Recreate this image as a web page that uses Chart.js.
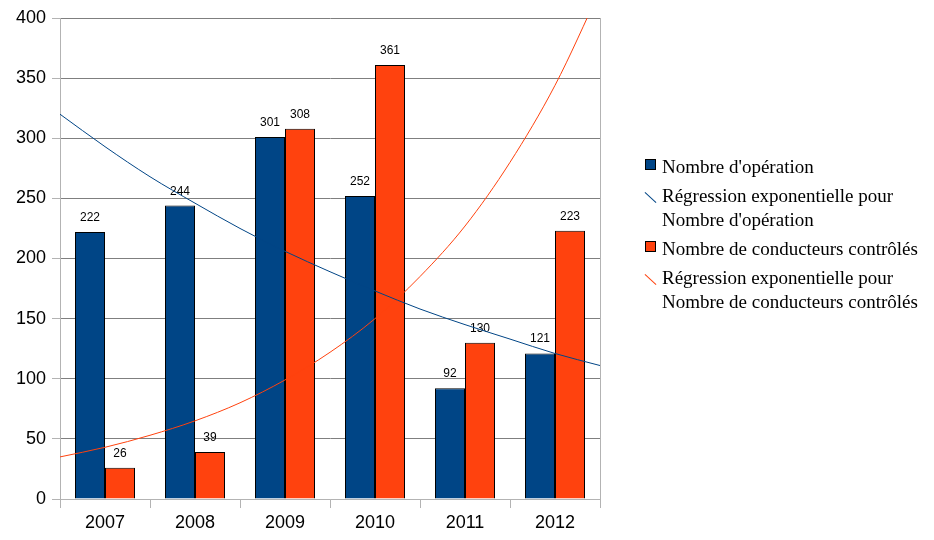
<!DOCTYPE html>
<html>
<head>
<meta charset="utf-8">
<script src="https://cdn.jsdelivr.net/npm/chart.js@4.4.0/dist/chart.umd.min.js"></script>
<style>
  body { margin: 0; background: #fff; }
  #wrap { position: relative; width: 934px; height: 540px; }
  #wrap canvas { position: absolute; left: 0; top: 0; }
  #legend { position: absolute; left: 644px; top: 155px; font-family: 'Liberation Serif', 'DejaVu Serif', serif; font-size: 19px; color: #000; }
  .item { position: relative; padding-left: 18px; line-height: 24px; margin-bottom: 5px; white-space: nowrap; }
  .box { position: absolute; left: 1px; top: 4px; width: 9px; height: 9px; border: 1px solid #000; }
  .diag { position: absolute; left: -1px; top: 13px; width: 15px; height: 1px; transform: rotate(42deg); }
</style>
</head>
<body>
<div id="wrap">
  <canvas id="myChart" width="934" height="540"></canvas>
  <canvas id="trendChart" width="934" height="540"></canvas>
  <div id="legend">
    <div class="item"><span class="box" style="background:#004586"></span>Nombre d'opération</div>
    <div class="item"><span class="diag" style="background:#004586"></span>Régression exponentielle pour<br>Nombre d'opération</div>
    <div class="item"><span class="box" style="background:#ff420e"></span>Nombre de conducteurs contrôlés</div>
    <div class="item"><span class="diag" style="background:#ff420e"></span>Régression exponentielle pour<br>Nombre de conducteurs contrôlés</div>
  </div>
</div>
<script>
const ctx = document.getElementById('myChart');
const ctxTrend = document.getElementById('trendChart');

// données
const years = ['2007', '2008', '2009', '2010', '2011', '2012'];
const operations = [222, 244, 301, 252, 92, 121];
const conducteurs = [26, 39, 308, 361, 130, 223];

// courbes de tendance (position en catégories, -0.5 = bord gauche)
const trendX = [-0.5, 0, 0.5, 1, 1.5, 2, 2.5, 3, 3.5, 4, 4.5, 5, 5.5];
const trendOperations = [320, 293, 268, 246, 225, 206, 189, 173, 158, 145, 133, 121, 111];
const trendConducteurs = [35, 43, 53, 65, 80, 99, 122, 150, 185, 227, 280, 344, 423];

const blue = '#004586';
const orange = '#ff420e';
const lightGray = '#b3b3b3';

// même zone de tracé pour les deux graphiques
const plotLeft = 60, plotRight = 334, plotTop = 18, plotBottom = 41;

function toPoints(xs, ys) {
    return xs.map((x, i) => ({x: x, y: ys[i]}));
}

// valeurs au-dessus des barres + bord droit
const extras = {
    id: 'extras',
    afterDatasetsDraw(chart) {
        const c = chart.ctx;
        const area = chart.chartArea;
        c.save();
        c.strokeStyle = lightGray;
        c.lineWidth = 1;
        c.beginPath();
        c.moveTo(area.right + 0.5, area.top);
        c.lineTo(area.right + 0.5, area.bottom);
        c.stroke();

        c.fillStyle = '#000';
        c.font = '12px "Liberation Sans", Arial, sans-serif';
        c.textAlign = 'center';
        c.textBaseline = 'alphabetic';
        chart.data.datasets.forEach((ds, i) => {
            chart.getDatasetMeta(i).data.forEach((bar, j) => {
                c.fillText(String(ds.data[j]), bar.x, bar.y - 11);
            });
        });
        c.restore();
    }
};

window.myChart = new Chart(ctx, {
    type: 'bar',
    data: {
        labels: years,
        datasets: [
            {
                label: "Nombre d'opération",
                data: operations,
                backgroundColor: blue,
                borderColor: '#000',
                borderWidth: 1
            },
            {
                label: 'Nombre de conducteurs contrôlés',
                data: conducteurs,
                backgroundColor: orange,
                borderColor: '#000',
                borderWidth: 1
            }
        ]
    },
    options: {
        responsive: false,
        animation: false,
        categoryPercentage: 2 / 3,
        barPercentage: 1,
        layout: {padding: {top: plotTop, right: plotRight, left: 0, bottom: 0}},
        plugins: {
            legend: {display: false},
            tooltip: {enabled: false}
        },
        scales: {
            x: {
                offset: true,
                grid: {offset: true, drawOnChartArea: false, color: lightGray, tickLength: 9},
                border: {color: lightGray},
                ticks: {color: '#000', padding: 4, font: {family: '"Liberation Sans", Arial, sans-serif', size: 18}},
                afterFit: (scale) => { scale.height = plotBottom; }
            },
            y: {
                min: 0,
                max: 400,
                ticks: {stepSize: 50, color: '#000', padding: 6, font: {family: '"Liberation Sans", Arial, sans-serif', size: 18}},
                grid: {
                    color: (c) => (c.tick && c.tick.value === 0 ? lightGray : '#7f7f7f'),
                    tickColor: lightGray,
                    tickLength: 8
                },
                border: {color: lightGray},
                afterFit: (scale) => { scale.width = plotLeft; }
            }
        }
    },
    plugins: [extras]
});

// régressions exponentielles, sur un canvas transparent par-dessus
window.trendChart = new Chart(ctxTrend, {
    type: 'line',
    data: {
        datasets: [
            {
                label: "Régression exponentielle pour Nombre d'opération",
                data: toPoints(trendX, trendOperations),
                borderColor: blue,
                borderWidth: 1,
                pointRadius: 0,
                cubicInterpolationMode: 'monotone',
                fill: false
            },
            {
                label: 'Régression exponentielle pour Nombre de conducteurs contrôlés',
                data: toPoints(trendX, trendConducteurs),
                borderColor: orange,
                borderWidth: 1,
                pointRadius: 0,
                cubicInterpolationMode: 'monotone',
                fill: false
            }
        ]
    },
    options: {
        responsive: false,
        animation: false,
        layout: {padding: {top: plotTop, right: plotRight, left: plotLeft, bottom: plotBottom}},
        plugins: {
            legend: {display: false},
            tooltip: {enabled: false}
        },
        scales: {
            x: {type: 'linear', display: false, min: -0.5, max: 5.5},
            y: {display: false, min: 0, max: 400}
        }
    }
});
</script>
</body>
</html>
